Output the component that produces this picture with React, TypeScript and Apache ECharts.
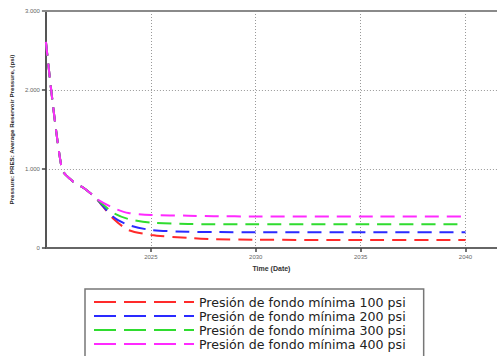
import React, { useEffect, useRef } from "react";
import * as echarts from "echarts";

const years = [2020, 2020.76, 2021.3, 2021.8, 2022.18, 2022.42, 2023.22, 2023.93, 2025.02, 2026.78, 2028, 2030, 2035, 2040];
const p100 = [2610, 1000, 840, 760, 680, 620, 370, 228, 165, 127, 112, 105, 100, 100];
const p200 = [2610, 1000, 840, 760, 680, 620, 392, 291, 228, 205, 202, 200, 200, 200];
const p300 = [2610, 1000, 840, 760, 680, 620, 443, 367, 320, 304, 301, 300, 300, 300];
const p400 = [2610, 1000, 840, 760, 680, 620, 506, 443, 418, 409, 402, 400, 400, 400];
const seriesNames = [
  "Presión de fondo mínima 100 psi",
  "Presión de fondo mínima 200 psi",
  "Presión de fondo mínima 300 psi",
  "Presión de fondo mínima 400 psi",
];
const seriesValues = [p100, p200, p300, p400];
const colors = ["#ff2a2a", "#2a2aff", "#2fdc2f", "#ff2aff"];

export default function App() {
  const ref = useRef<HTMLDivElement>(null);
  useEffect(() => {
    const chart = echarts.init(ref.current!, null, { renderer: "svg" });
    chart.setOption({
      animation: false,
      backgroundColor: "#ffffff",
      grid: { left: 42, top: 11, right: 0, bottom: 132, containLabel: false },
      graphic: [
        {
          type: "line",
          z: 100,
          shape: { x1: 42, y1: 11, x2: 497, y2: 11 },
          style: { stroke: "#8a8a8a", lineWidth: 2 },
        },
      ],
      legend: {
        orient: "vertical",
        left: 85,
        top: 289,
        padding: [6.5, 18, 8, 8],
        borderColor: "#777",
        borderWidth: 1.5,
        itemWidth: 100,
        itemHeight: 12,
        itemGap: 1,
        itemStyle: { opacity: 0 },
        lineStyle: { type: [22, 8], width: 2 },
        textStyle: { fontFamily: "DejaVu Sans", fontSize: 12.6, color: "#222" },
        data: seriesNames.map((n) => ({ name: n })),
      },
      xAxis: {
        type: "value",
        min: 2020,
        max: 2041.5,
        interval: 5,
        name: "Time (Date)",
        nameLocation: "middle",
        nameGap: 16,
        nameTextStyle: { fontFamily: "Liberation Sans", fontSize: 7, fontWeight: "bold", color: "#333" },
        axisLine: { lineStyle: { color: "#666", width: 2 } },
        axisTick: { show: true, length: 4, lineStyle: { color: "#444", width: 1.5 } },
        axisLabel: {
          fontFamily: "Liberation Sans",
          fontSize: 6,
          color: "#666",
          margin: 6,
          showMinLabel: false,
          showMaxLabel: false,
          formatter: (v: number) => String(v),
        },
        splitLine: { show: true, lineStyle: { color: "#999", type: [1, 2], width: 1 } },
      },
      yAxis: {
        type: "value",
        min: 0,
        max: 3000,
        interval: 1000,
        name: "Pressure: PRES: Average Reservoir Pressure, (psi)",
        nameLocation: "middle",
        nameRotate: 90,
        nameGap: 27,
        nameTextStyle: { fontFamily: "Liberation Sans", fontSize: 6.2, fontWeight: "bold", color: "#222" },
        axisLine: { show: true, lineStyle: { color: "#555", width: 2 } },
        axisTick: { show: true, length: 4, lineStyle: { color: "#444", width: 1.5 } },
        axisLabel: {
          fontFamily: "Liberation Sans",
          fontSize: 6,
          color: "#666",
          margin: 6,
          formatter: (v: number) => (v === 0 ? "0" : v / 1000 + ".000"),
        },
        splitLine: { show: true, lineStyle: { color: "#999", type: [1, 2], width: 1 } },
      },
      series: seriesValues.map((vals, i) => ({
        type: "line",
        name: seriesNames[i],
        data: years.map((y, j) => [y, vals[j]]),
        smooth: 0.25,
        symbol: "none",
        color: colors[i],
        z: 2 + i,
        lineStyle: { color: colors[i], width: 2, type: [14, 8] },
      })),
    });
    return () => chart.dispose();
  }, []);
  return (
    <div style={{ width: 497, height: 356, overflow: "hidden", position: "absolute", left: 0, top: 0 }}>
      <div ref={ref} style={{ width: 497, height: 380 }} />
    </div>
  );
}
